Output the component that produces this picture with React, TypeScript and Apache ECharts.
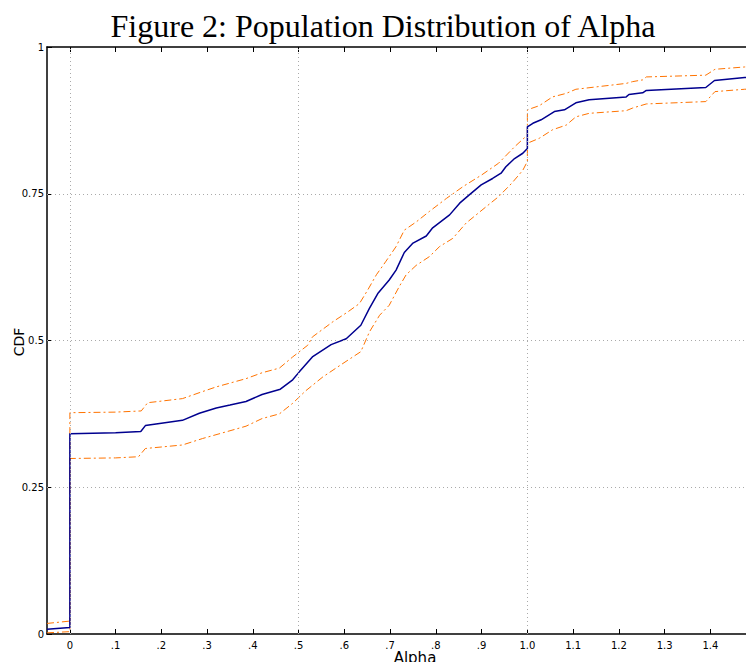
import React, { useEffect, useRef } from "react";
import * as echarts from "echarts";

// ---- data ----
const xTicks = [0, 0.1, 0.2, 0.3, 0.4, 0.5, 0.6, 0.7, 0.8, 0.9, 1.0, 1.1, 1.2, 1.3, 1.4];
const xTickLabels = ["0", ".1", ".2", ".3", ".4", ".5", ".6", ".7", ".8", ".9", "1.0", "1.1", "1.2", "1.3", "1.4"];
const gridX = [0, 0.5, 1.0];
const gridY = [0.25, 0.5, 0.75];

const cdfMean: [number, number][] = [
  [-0.05, 0.008], [0, 0.011], [0, 0.341], [0.05, 0.342], [0.1, 0.343], [0.155, 0.345],
  [0.165, 0.355], [0.2, 0.359], [0.246, 0.364], [0.283, 0.376], [0.32, 0.385], [0.35, 0.39],
  [0.385, 0.396], [0.42, 0.408], [0.46, 0.417], [0.487, 0.433], [0.502, 0.447], [0.53, 0.472],
  [0.571, 0.493], [0.604, 0.503], [0.636, 0.526], [0.655, 0.555], [0.673, 0.58], [0.698, 0.603],
  [0.713, 0.62], [0.731, 0.65], [0.75, 0.666], [0.779, 0.678], [0.793, 0.692], [0.83, 0.714],
  [0.852, 0.734], [0.873, 0.748], [0.899, 0.765], [0.924, 0.776], [0.9425, 0.785], [0.953, 0.796],
  [0.972, 0.81], [0.99, 0.819], [1.0, 0.827], [1.0, 0.864], [1.012, 0.87], [1.03, 0.876],
  [1.059, 0.89], [1.081, 0.893], [1.106, 0.905], [1.135, 0.91], [1.216, 0.915], [1.222, 0.919],
  [1.252, 0.922], [1.26, 0.926], [1.39, 0.931], [1.409, 0.943], [1.475, 0.948], [1.55, 0.952],
];

const cdfUpper: [number, number][] = [
  [-0.05, 0.018], [0, 0.022], [0, 0.377], [0.1, 0.378], [0.156, 0.38], [0.17, 0.394],
  [0.246, 0.401], [0.29, 0.413], [0.32, 0.421], [0.385, 0.435], [0.42, 0.445], [0.458, 0.453],
  [0.487, 0.472], [0.52, 0.492], [0.53, 0.506], [0.575, 0.532], [0.608, 0.549], [0.633, 0.563],
  [0.651, 0.586], [0.67, 0.612], [0.69, 0.634], [0.713, 0.66], [0.731, 0.688], [0.757, 0.702],
  [0.786, 0.72], [0.823, 0.742], [0.859, 0.762], [0.9, 0.782], [0.937, 0.802], [0.972, 0.83],
  [1.0, 0.85], [1.0, 0.893], [1.026, 0.9], [1.055, 0.915], [1.085, 0.921], [1.106, 0.928],
  [1.216, 0.938], [1.23, 0.941], [1.252, 0.944], [1.26, 0.949], [1.39, 0.952], [1.41, 0.962],
  [1.475, 0.966], [1.55, 0.97],
];

const cdfLower: [number, number][] = [
  [-0.05, 0.002], [0, 0.004], [0, 0.299], [0.1, 0.3], [0.15, 0.302], [0.165, 0.316],
  [0.246, 0.322], [0.29, 0.333], [0.385, 0.354], [0.42, 0.367], [0.458, 0.375], [0.487, 0.393],
  [0.515, 0.414], [0.553, 0.438], [0.597, 0.461], [0.636, 0.481], [0.655, 0.515], [0.677, 0.543],
  [0.698, 0.56], [0.72, 0.592], [0.735, 0.612], [0.757, 0.628], [0.786, 0.643], [0.808, 0.66],
  [0.837, 0.674], [0.866, 0.7], [0.91, 0.728], [0.937, 0.745], [0.966, 0.768], [0.99, 0.79],
  [1.0, 0.805], [1.0, 0.836], [1.026, 0.8445], [1.055, 0.859], [1.085, 0.867], [1.106, 0.881],
  [1.135, 0.887], [1.216, 0.8915], [1.23, 0.896], [1.26, 0.903], [1.39, 0.907], [1.41, 0.924],
  [1.475, 0.928], [1.55, 0.931],
];

const SANS = "DejaVu Sans";
const ORANGE = "#ff7300";
const BLUE = "#00008f";

export default function App() {
  const ref = useRef<HTMLDivElement>(null);

  useEffect(() => {
    if (!ref.current) return;
    const chart = echarts.init(ref.current, undefined, { renderer: "svg" });

    const labelFor = (v: number) => {
      const i = xTicks.findIndex((t) => Math.abs(t - v) < 1e-6);
      return i >= 0 ? xTickLabels[i] : "";
    };

    const axisCommon = {
      type: "value" as const,
      min: -0.05,
      max: 1.55,
      axisLine: { show: true, onZero: false, lineStyle: { color: "#000", width: 1.5 } },
      axisTick: { show: true, inside: true, length: 5, customValues: xTicks, lineStyle: { color: "#000", width: 1 } },
      splitLine: { show: false },
    };

    const dotted = { color: "#aaaaaa", width: 1, type: [1, 3] as number[] };

    chart.setOption({
      animation: false,
      grid: { left: 47, top: 47, width: 732, height: 587 },
      xAxis: [
        {
          ...axisCommon,
          position: "bottom",
          axisLabel: {
            show: true,
            customValues: xTicks,
            formatter: (v: number) => labelFor(v),
            margin: 6,
            fontSize: 10,
            color: "#000",
            fontFamily: SANS,
          },
        },
        {
          ...axisCommon,
          position: "top",
          axisLabel: { show: false },
        },
      ],
      yAxis: {
        type: "value",
        min: 0,
        max: 1,
        interval: 0.25,
        axisLine: { show: true, onZero: false, lineStyle: { color: "#000", width: 1.5 } },
        axisTick: { show: true, inside: true, length: 5, lineStyle: { color: "#000", width: 1 } },
        axisLabel: { margin: 3, fontSize: 10, color: "#000", fontFamily: SANS },
        splitLine: { show: false },
      },
      graphic: [
        {
          type: "text",
          x: 383,
          y: 26,
          style: {
            text: "Figure 2: Population Distribution of Alpha",
            fontSize: 32,
            fontFamily: "Liberation Serif",
            fill: "#000",
            align: "center",
            verticalAlign: "middle",
            textAlign: "center",
            textVerticalAlign: "middle",
          },
        },
        {
          type: "text",
          x: 18.5,
          y: 342,
          rotation: Math.PI / 2,
          style: {
            text: "CDF",
            fontSize: 14,
            fontFamily: SANS,
            fill: "#000",
            align: "center",
            verticalAlign: "middle",
            textAlign: "center",
            textVerticalAlign: "middle",
          },
        },
        {
          type: "text",
          x: 415,
          y: 650,
          style: {
            text: "Alpha",
            fontSize: 15,
            fontFamily: SANS,
            fill: "#000",
            align: "center",
            verticalAlign: "top",
            textAlign: "center",
            textVerticalAlign: "top",
          },
        },
      ],
      series: [
        {
          type: "line",
          name: "grid",
          data: [],
          silent: true,
          markLine: {
            silent: true,
            symbol: "none",
            label: { show: false },
            lineStyle: dotted,
            data: [
              ...gridX.map((v) => ({ xAxis: v })),
              ...gridY.map((v) => ({ yAxis: v })),
            ],
          },
        },
        {
          type: "line",
          name: "upper",
          data: cdfUpper,
          showSymbol: false,
          symbol: "none",
          lineStyle: { color: ORANGE, width: 1, type: [7, 3, 2, 3] },
          z: 3,
        },
        {
          type: "line",
          name: "lower",
          data: cdfLower,
          showSymbol: false,
          symbol: "none",
          lineStyle: { color: ORANGE, width: 1, type: [7, 3, 2, 3] },
          z: 3,
        },
        {
          type: "line",
          name: "mean",
          data: cdfMean,
          showSymbol: false,
          symbol: "none",
          lineStyle: { color: BLUE, width: 1.5 },
          z: 4,
        },
      ],
    });

    return () => chart.dispose();
  }, []);

  return (
    <div style={{ position: "fixed", left: 0, top: 0, width: 746, height: 662, overflow: "hidden", background: "#fff" }}>
      <div ref={ref} style={{ width: 800, height: 662 }} />
    </div>
  );
}
